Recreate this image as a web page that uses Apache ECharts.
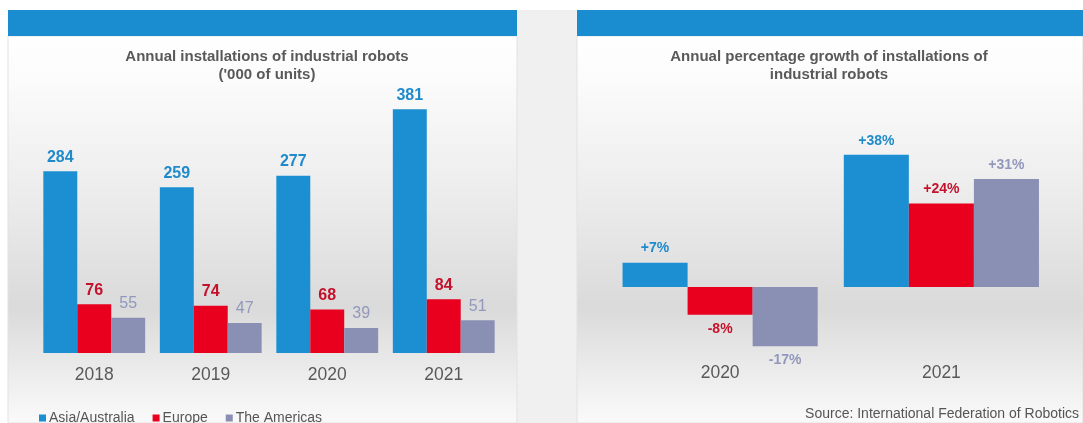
<!DOCTYPE html>
<html>
<head>
<meta charset="utf-8">
<script src="https://cdn.jsdelivr.net/npm/echarts@6/dist/echarts.min.js"></script>
<style>
html,body{margin:0;padding:0;background:#fff;}
#chart{width:1083px;height:423px;}
</style>
</head>
<body>
<div id="chart"></div>
<script>
// ---- data ----
const years = ['2018', '2019', '2020', '2021'];
const asiaUnits = [284, 259, 277, 381];
const europeUnits = [76, 74, 68, 84];
const americasUnits = [55, 47, 39, 51];

const growthYears = ['2020', '2021'];
const asiaGrowth = [7, 38];
const europeGrowth = [-8, 24];
const americasGrowth = [-17, 31];

const seriesNames = ['Asia/Australia', 'Europe', 'The Americas'];
const leftTitle = "Annual installations of industrial robots\n('000 of units)";
const rightTitle = "Annual percentage growth of installations of\nindustrial robots";
const sourceText = 'Source: International Federation of Robotics';

// ---- style ----
const FONT = '"Liberation Sans", Arial, sans-serif';
const barColors = ['#1b8fd1', '#e8001e', '#8a8fb4'];
const labelColors = ['#1f8bcb', '#c3132c', '#9198bc'];
const headerBlue = '#1a8dd0';

const chart = echarts.init(document.getElementById('chart'), null, {renderer: 'canvas'});

const panelGrad = () => new echarts.graphic.LinearGradient(0, 0, 0, 1, [
  {offset: 0, color: '#ffffff'},
  {offset: 0.12, color: '#fbfbfb'},
  {offset: 0.45, color: '#eaeaea'},
  {offset: 0.7, color: '#dadada'},
  {offset: 0.86, color: '#ebebeb'},
  {offset: 1, color: '#fafafa'}
]);

function pct(v) { return (v > 0 ? '+' : '') + v + '%'; }

function leftSeries(name, data, i) {
  return {
    name: name, type: 'bar', xAxisIndex: 0, yAxisIndex: 0,
    data: data, barGap: '0%', barCategoryGap: '12.6%',
    itemStyle: {color: barColors[i]},
    label: {
      show: true, position: 'top', distance: 6,
      color: labelColors[i], fontFamily: FONT, fontSize: 16,
      fontWeight: i === 2 ? 'normal' : 'bold'
    }
  };
}
function rightSeries(name, data, i) {
  return {
    name: name, type: 'bar', xAxisIndex: 1, yAxisIndex: 1,
    data: data.map(v => ({
      value: v,
      label: {position: v >= 0 ? 'top' : 'bottom'}
    })),
    barGap: '0%', barCategoryGap: '11.8%',
    itemStyle: {color: barColors[i]},
    label: {
      show: true, distance: 7,
      formatter: p => pct(p.value),
      color: labelColors[i], fontFamily: FONT, fontSize: 14, fontWeight: 'bold'
    }
  };
}

const catAxis = (gridIndex, data, margin) => ({
  type: 'category', gridIndex: gridIndex, data: data,
  axisLine: {show: false, onZero: false}, axisTick: {show: false},
  axisLabel: {color: '#595959', fontFamily: FONT, fontSize: 17.5, margin: margin}
});
const valAxis = (gridIndex, min, max) => ({
  type: 'value', gridIndex: gridIndex, min: min, max: max,
  show: false, splitLine: {show: false}
});

const titleStyle = {color: '#595959', fontSize: 15, fontWeight: 'bold', fontFamily: FONT, lineHeight: 18};

chart.setOption({
  animation: false,
  textStyle: {fontFamily: FONT},
  graphic: [
    {type: 'rect', silent: true, z: -10, shape: {x: 517, y: 10, width: 60, height: 413}, style: {fill: '#f0f0f0'}},
    {type: 'rect', silent: true, z: -10, shape: {x: 8, y: 36, width: 509, height: 387}, style: {fill: panelGrad(), stroke: '#e2e2e2', lineWidth: 1}},
    {type: 'rect', silent: true, z: -10, shape: {x: 577, y: 36, width: 506, height: 387}, style: {fill: panelGrad(), stroke: '#e2e2e2', lineWidth: 1}},
    {type: 'rect', silent: true, z: -9, shape: {x: 8, y: 10, width: 509, height: 26}, style: {fill: headerBlue}},
    {type: 'rect', silent: true, z: -9, shape: {x: 577, y: 10, width: 506, height: 26}, style: {fill: headerBlue}},
    {type: 'text', silent: true, right: 4, top: 407, style: {text: sourceText, fill: '#555555', font: '14px ' + FONT}}
  ],
  title: [
    {text: leftTitle, left: 262, top: 43, textAlign: 'center', textStyle: titleStyle},
    {text: rightTitle, left: 824, top: 43, textAlign: 'center', textStyle: titleStyle}
  ],
  legend: {
    data: seriesNames, left: 34, top: 406, icon: 'rect', itemWidth: 7, itemHeight: 7, itemGap: 18,
    textStyle: {color: '#555555', fontSize: 14, fontFamily: FONT, padding: [0, 0, 0, -2]}
  },
  grid: [
    {left: 36, right: 581, top: 97, bottom: 70},
    {left: 609.5, right: 31, top: 147.8, bottom: 66.4}
  ],
  xAxis: [catAxis(0, years, 13), catAxis(1, growthYears, 8)],
  yAxis: [valAxis(0, 0, 400), valAxis(1, -20, 40)],
  series: [
    leftSeries(seriesNames[0], asiaUnits, 0),
    leftSeries(seriesNames[1], europeUnits, 1),
    leftSeries(seriesNames[2], americasUnits, 2),
    rightSeries(seriesNames[0], asiaGrowth, 0),
    rightSeries(seriesNames[1], europeGrowth, 1),
    rightSeries(seriesNames[2], americasGrowth, 2)
  ]
});
</script>
</body>
</html>
